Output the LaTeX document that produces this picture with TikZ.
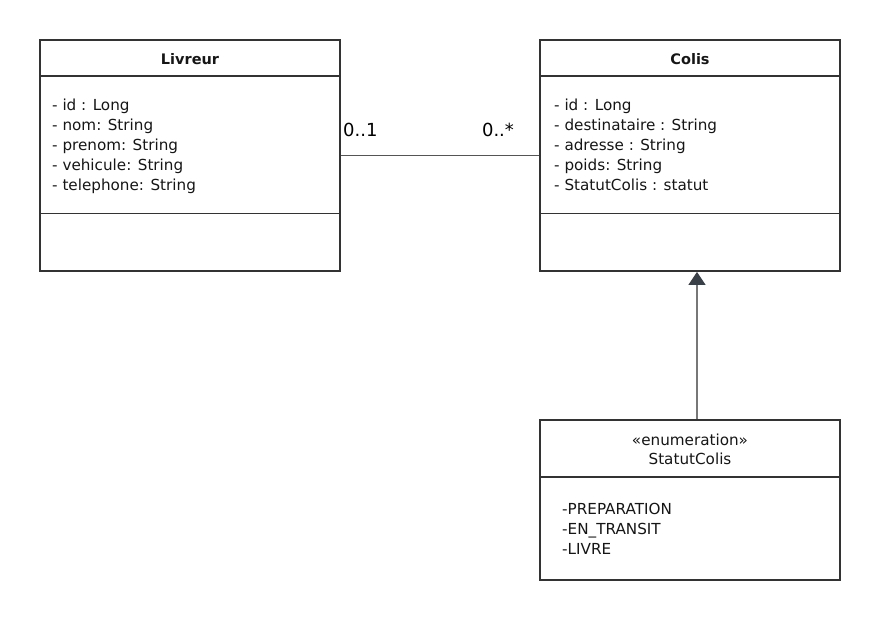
\documentclass[tikz,border=0pt]{standalone}
\usepackage{fontspec}
\setmainfont{DejaVu Sans}
\usetikzlibrary{arrows.meta}
\definecolor{linec}{HTML}{333333}
\definecolor{textc}{HTML}{161616}
\definecolor{assocc}{HTML}{555555}
\definecolor{arrowc}{HTML}{777777}
\definecolor{tipc}{HTML}{3A4048}
\tikzset{
  classbox/.style={draw=linec, line width=1.8pt, rectangle, minimum width=300pt, inner sep=0pt, fill=white},
  divider/.style={draw=linec, line width=1.8pt},
  attr/.style={anchor=north west, align=left, inner sep=0pt, font=\fontsize{15.2}{20}\selectfont, text=textc},
  title/.style={anchor=base, inner sep=0pt, font=\fontsize{14.5}{20}\selectfont\bfseries, text=textc},
  plain/.style={anchor=base, inner sep=0pt, font=\fontsize{15.2}{20}\selectfont, text=textc},
  mult/.style={inner sep=0pt, font=\fontsize{18}{20}\selectfont, text=black},
  assoc/.style={draw=assocc, line width=0.9pt},
  inherit/.style={draw=arrowc, line width=1.3pt, -{Triangle[width=17pt,length=13pt,fill=tipc,color=tipc]}}
}
\begin{document}
\begin{tikzpicture}[x=1pt,y=-1pt]
\useasboundingbox[fill=white] (0,0) rectangle (880,620);
% Livreur
\node[classbox, minimum height=231pt] (liv) at (190,155.5) {};
\draw[divider] (40,76) -- (340,76);
\draw[divider] (40,213.5) -- (340,213.5);
\node[title] (livt) at (190,64.3) {Livreur};
\node[attr] (liva) at (52,99) {- id : Long\\- nom: String\\- prenom: String\\- vehicule: String\\- telephone: String};
% Colis
\node[classbox, minimum height=231pt] (col) at (690,155.5) {};
\draw[divider] (540,76) -- (840,76);
\draw[divider] (540,213.5) -- (840,213.5);
\node[title] (colt) at (690,64.3) {Colis};
\node[attr] (cola) at (554,99) {- id : Long\\- destinataire : String\\- adresse : String\\- poids: String\\- StatutColis : statut};
% Enumeration
\node[classbox, minimum height=160pt] (enum) at (690,500) {};
\draw[divider] (540,477) -- (840,477);
\node[plain] (enums) at (690,445) {«enumeration»};
\node[plain] (enumt) at (690,464.5) {StatutColis};
\node[attr] (enuma) at (562,502.6) {-PREPARATION\\-EN\_TRANSIT\\-LIVRE};
% association
\draw[assoc] (liv.east) -- (col.west);
\node[mult, anchor=base west] (m1) at (343,136.7) {0..1};
\node[mult, anchor=base] (m2) at (498,136.7) {0..*};
% arrow from enumeration to Colis
\draw[inherit] ([xshift=7pt]enum.north) -- ([xshift=7pt]col.south);
\end{tikzpicture}
\end{document}
